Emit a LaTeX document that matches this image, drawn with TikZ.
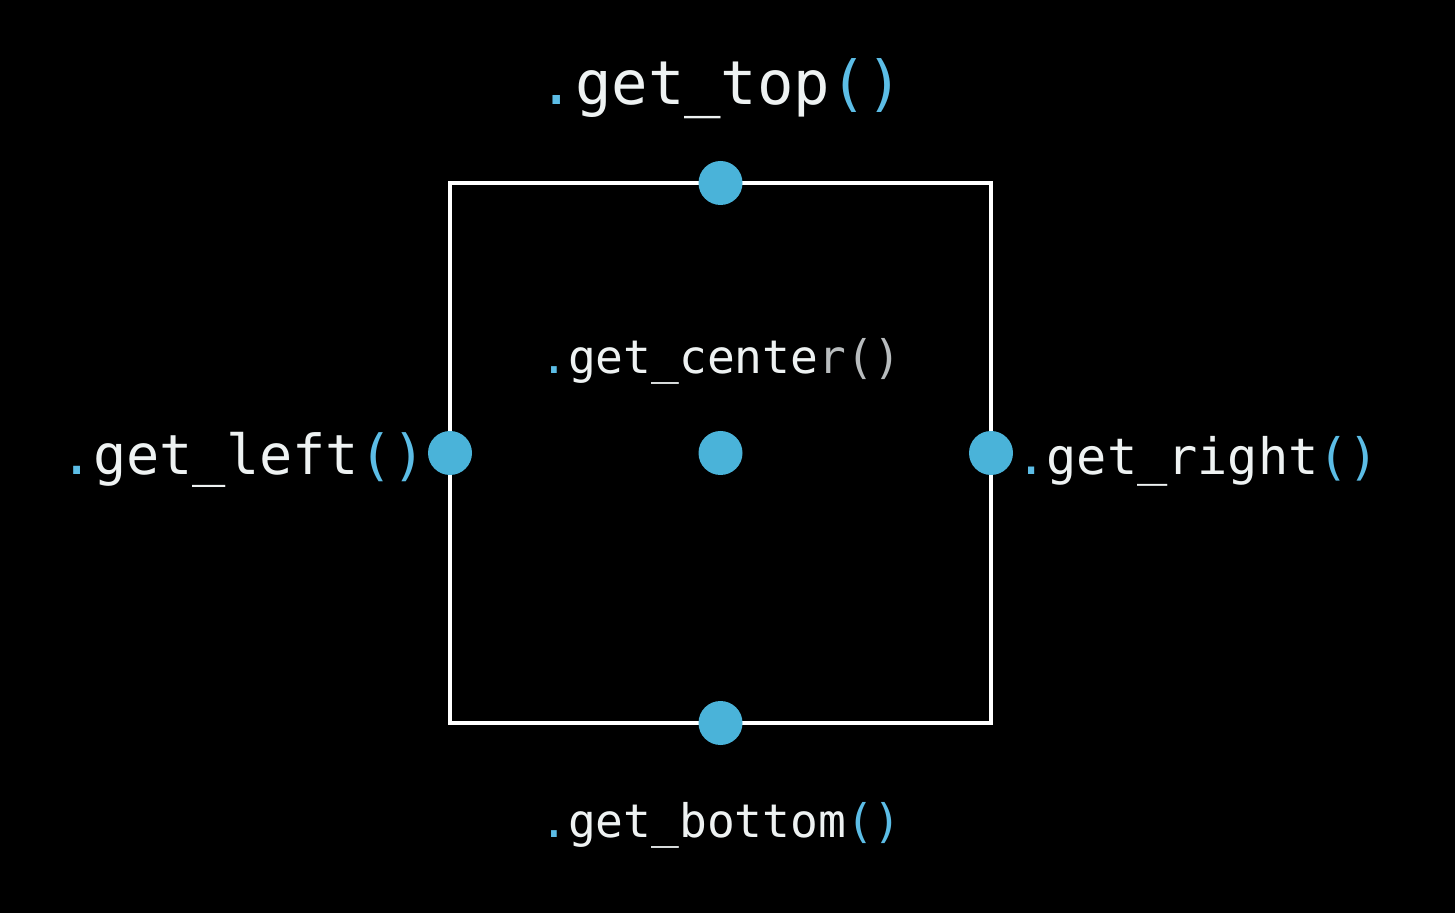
\documentclass[tikz,border=0pt]{standalone}
\usepackage{fontspec}
\newfontfamily\codefont{DejaVu Sans Mono}
\definecolor{dotblue}{HTML}{4AB3D9}
\definecolor{txtblue}{HTML}{5CBDE6}
\definecolor{txtwhite}{HTML}{EEF2F2}
\definecolor{txtgray}{HTML}{B8BCBE}
\begin{document}
\begin{tikzpicture}[x=0.5pt,y=-0.5pt,
  dotnode/.style={circle,fill=dotblue,inner sep=0pt,minimum size=22pt},
  lbl/.style={inner sep=0pt,text=txtwhite,font=\codefont},
  frame/.style={draw=white,line width=2pt,inner sep=0pt,outer sep=0pt,minimum width=270.5pt,minimum height=270pt}]
\fill[black] (0,0) rectangle (1455,913);
\useasboundingbox (0,0) rectangle (1455,913);
\node[frame] (box) at (720.5,453) {};
\node[dotnode] (dtop) at (box.north) {};
\node[dotnode] (dbottom) at (box.south) {};
\node[dotnode] (dleft) at (box.west) {};
\node[dotnode] (dright) at (box.east) {};
\node[dotnode] (dcenter) at (box.center) {};
\node[lbl,anchor=base,font=\codefont\fontsize{30.3pt}{36pt}\selectfont] (ltop) at (721,105)
  {\textcolor{txtblue}{.}get\_top\textcolor{txtblue}{()}};
\node[lbl,anchor=base,font=\codefont\fontsize{23.1pt}{28pt}\selectfont] (lcenter) at (721,374)
  {\textcolor{txtblue}{.}get\_cente\textcolor{txtgray}{r()}};
\node[lbl,anchor=base,font=\codefont\fontsize{23.1pt}{28pt}\selectfont] (lbottom) at (721,837)
  {\textcolor{txtblue}{.}get\_bottom\textcolor{txtblue}{()}};
\node[lbl,anchor=base east,font=\codefont\fontsize{27.6pt}{32pt}\selectfont] (lleft) at (426,475)
  {\textcolor{txtblue}{.}get\_left\textcolor{txtblue}{()}};
\node[lbl,anchor=base west,font=\codefont\fontsize{25.1pt}{30pt}\selectfont] (lright) at (1016,475)
  {\textcolor{txtblue}{.}get\_right\textcolor{txtblue}{()}};
\end{tikzpicture}
\end{document}
